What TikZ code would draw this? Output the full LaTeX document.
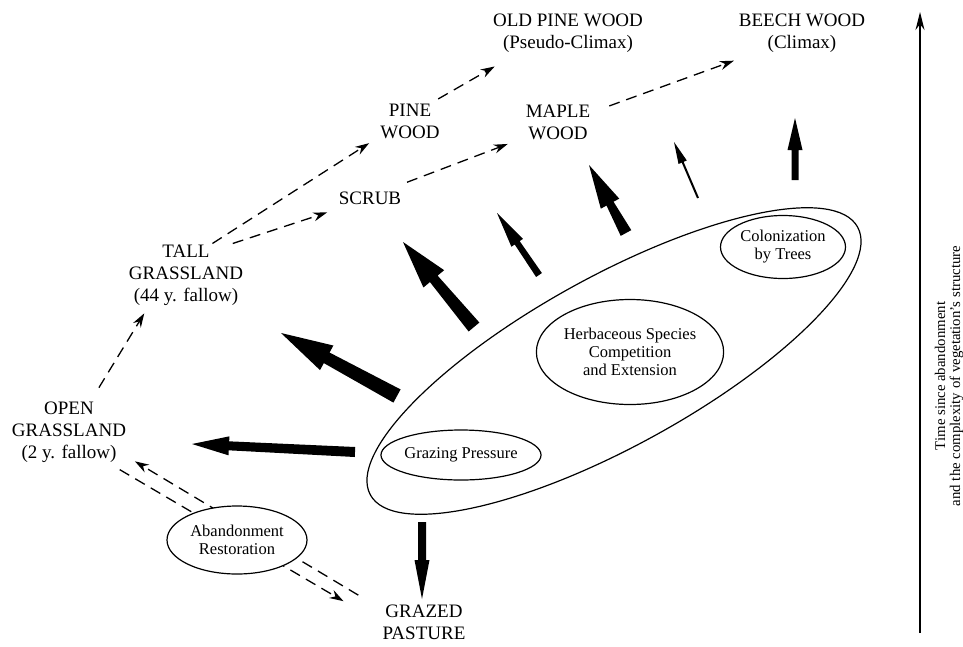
\documentclass[tikz,border=0pt]{standalone}
\usepackage{fontspec}
\setmainfont{Liberation Serif}
\usetikzlibrary{shapes.geometric,arrows.meta,calc}
\tikzset{>=stealth}

\begin{document}
\begin{tikzpicture}[x=1pt,y=-1pt,
  stage/.style={align=center,inner sep=1pt,font=\fontsize{19}{22}\selectfont},
  process/.style={draw,ellipse,fill=white,inner sep=0pt,line width=1.2pt,align=center,font=\fontsize{16.5}{18}\selectfont},
  succ/.style={line width=1.3pt,dash pattern=on 11pt off 7pt,-{Stealth[length=14pt,width=9pt]}}]
\useasboundingbox (0,0) rectangle (963,646);
% vegetation stages
\node[stage] (open) at (69,432) {OPEN\\GRASSLAND\\(2 y. fallow)};
\node[stage] (tall) at (186,275) {TALL\\GRASSLAND\\(44 y. fallow)};
\node[stage] (scrub) at (370,198) {SCRUB};
\node[stage] (pine) at (410,121) {PINE\\WOOD};
\node[stage] (maple) at (558,122) {MAPLE\\WOOD};
\node[stage] (oldpine) at (568,33) {OLD PINE WOOD\\(Pseudo-Climax)};
\node[stage] (beech) at (802,33) {BEECH WOOD\\(Climax)};
\node[stage] (pasture) at (424,622) {GRAZED\\PASTURE};
% succession paths
\draw[succ,shorten <=15pt,shorten >=8pt] (open.55) -- (tall.220);
\draw[succ,shorten >=12pt] (tall.50) -- (pine.207);
\draw[succ,shorten >=22pt] (tall.34) -- (scrub.199);
\draw[succ,shorten <=7pt,shorten >=26pt] (pine.40) -- (oldpine.202);
\draw[succ,shorten <=23pt,shorten >=18pt] (scrub.26) -- (maple.205);
\draw[succ,shorten <=19pt,shorten >=21pt] (maple.16) -- (beech.203);
\draw[succ,shorten <=12pt,shorten >=44pt] (open.322) -- (pasture.182);
\draw[succ,shorten <=27pt,shorten >=9pt] (pasture.163) -- (open.337);
\node[process,minimum width=140pt,minimum height=68pt] (abandon) at (237,540) {Abandonment\\Restoration};
% processes
\node[draw,ellipse,rotate=28.8,line width=1.2pt,minimum width=556pt,minimum height=170pt] (zone) at (614,361) {};
\node[process,minimum width=152pt,minimum height=50pt] (grazing) at (461,455) {Grazing Pressure};
\node[process,minimum width=184pt,minimum height=105pt] (herb) at (630,352) {Herbaceous Species\\Competition\\and Extension};
\node[process,minimum width=125pt,minimum height=63pt] (trees) at (783,247) {Colonization\\by Trees};
% pressure arrows
\foreach \tx/\ty/\hx/\hy/\wa/\wb/\hwid/\hlen in {355/452/192/444/5/4.5/9.5/37, 397/396/281/333/7.5/6/14/52,
  474/327/403/242/7/5/13.5/48, 539/275/497/213/3.5/3/7/36, 626/233/589/165/6/4/10.5/44,
  698/198/674/142/1/1/4.5/22, 795/180/795/118/3.5/3.5/7.5/32, 422/522/422/599/4/4/7.5/39}
{
  \coordinate (tail) at (\tx,\ty);
  \coordinate (tip) at (\hx,\hy);
  \coordinate (neck) at ($(tip)!\hlen pt!(tail)$);
  \fill ($(tail)!\wa pt!90:(tip)$) -- ($(neck)!\wb pt!-90:(tail)$) -- ($(neck)!\hwid pt!-90:(tail)$) -- (tip)
    -- ($(neck)!\hwid pt!90:(tail)$) -- ($(neck)!\wb pt!90:(tail)$) -- ($(tail)!\wa pt!-90:(tip)$) -- cycle;
}
% time axis
\coordinate (axisfoot) at (920,633);
\coordinate (axishead) at (920,12);
\draw[line width=1.3pt,-{Stealth[length=18pt,width=9pt]}] (axisfoot) -- (axishead);
\node[rotate=90,align=center,inner sep=0pt,font=\fontsize{14.8}{15}\selectfont] (axislabel) at (949,376) {Time since abandonment\\and the complexity of vegetation's structure};
\end{tikzpicture}
\end{document}
